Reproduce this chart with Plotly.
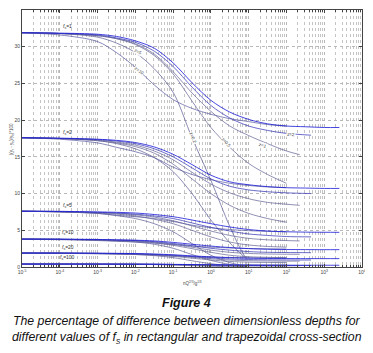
import plotly.graph_objects as go

# ---------------- data ----------------
# x positions are log10 of the abscissa
LX_A = [-5, -4, -3, -2.5, -2, -1.5, -1, -0.5, 0, 0.5, 1, 1.5, 2, 2.5, 3, 3.4]
LX_B = [-5, -4, -3, -2.5, -2, -1.5, -1, -0.5, 0, 0.5, 1, 1.5, 2, 2.65]
LX_C = [-5, -4, -3, -2.5, -2, -1.5, -1, -0.5, 0, 0.5, 1, 1.5, 2, 2.35]
LX_D = [-5, -4, -3, -2.5, -2, -1.5, -1, -0.5, 0, 0.5, 1, 1.5, 2]
LX_Z10 = [-5, -4, -3, -2.5, -2, -1.5, -1, -0.5, 0, 0.5, 1, 1.5, 2]
LX_STEEP = [-5, -4, -3, -2.5, -2, -1.5, -1, -0.5, 0, 0.5, 0.75, 0.9]

FS1 = {
    "A": [31.9, 31.85, 31.7, 31.4, 30.8, 29.8, 27.8, 25.1, 22.7, 21.1, 20.1, 19.5, 19.2, 19.1, 19.0, 19.0],
    "B": [31.9, 31.8, 31.6, 31.2, 30.6, 29.4, 27.3, 24.5, 22.0, 20.3, 19.2, 18.6, 18.2, 17.95],
    "C": [31.9, 31.8, 31.5, 31.1, 30.4, 29.0, 26.6, 23.7, 21.2, 19.2, 17.9, 16.8, 15.8, 15.3],
    "D": [31.9, 31.8, 31.5, 31.1, 30.3, 28.8, 26.3, 22.6, 19.0, 16.3, 14.1, 12.6, 11.4],
    "Z10": [31.9, 31.6, 30.7, 29.2, 27.2, 24.8, 22.8, 21.6, 20.8, 20.2, 19.8, 19.4, 19.2],
    "STEEP": [31.9, 31.8, 31.3, 30.5, 29.2, 27.0, 23.8, 17.6, 11.8, 5.5, 2.8, 1.4],
}
FS2 = {
    "A": [17.6, 17.55, 17.4, 17.25, 16.95, 16.35, 15.35, 13.95, 12.5, 11.6, 11.2, 10.95, 10.8, 10.75, 10.7, 10.7],
    "B": [17.6, 17.5, 17.35, 17.15, 16.8, 16.1, 15.0, 13.5, 12.0, 11.0, 10.5, 10.25, 10.1, 10.0],
    "C": [17.6, 17.5, 17.3, 17.0, 16.6, 15.8, 14.6, 12.9, 11.3, 10.1, 9.3, 8.8, 8.55, 8.4],
    "D": [17.6, 17.5, 17.2, 16.9, 16.4, 15.5, 14.0, 12.0, 10.0, 8.4, 7.3, 6.6, 6.1],
    "Z10": [17.6, 17.4, 16.9, 16.3, 15.7, 14.9, 13.6, 12.6, 11.9, 11.4, 11.1, 10.9, 10.8],
    "STEEP": [17.6, 17.5, 17.2, 16.8, 16.1, 14.9, 13.0, 10.0, 6.4, 3.3, 2.0, 1.3],
}
FS5 = {
    "A": [7.6, 7.58, 7.5, 7.45, 7.35, 7.15, 6.85, 6.4, 5.9, 5.45, 5.1, 4.9, 4.8, 4.75, 4.73, 4.72],
    "B": [7.6, 7.55, 7.45, 7.35, 7.2, 6.95, 6.6, 6.0, 5.4, 4.9, 4.5, 4.3, 4.15, 4.1],
    "C": [7.6, 7.55, 7.4, 7.3, 7.1, 6.8, 6.3, 5.6, 4.9, 4.3, 3.9, 3.7, 3.6, 3.55],
    "D": [7.6, 7.5, 7.35, 7.2, 6.95, 6.5, 5.9, 5.0, 4.1, 3.4, 3.0, 2.8, 2.7],
    "Z10": [7.6, 7.5, 7.3, 7.05, 6.85, 6.6, 6.2, 5.7, 5.35, 5.1, 4.95, 4.85, 4.8],
    "STEEP": [7.6, 7.5, 7.3, 7.0, 6.6, 5.9, 4.8, 3.2, 1.6, 0.6, 0.3, 0.15],
}
FS10 = {
    "A": [3.8, 3.79, 3.75, 3.7, 3.65, 3.55, 3.35, 3.1, 2.85, 2.65, 2.5, 2.42, 2.38, 2.37, 2.36, 2.36],
    "B": [3.8, 3.78, 3.72, 3.67, 3.6, 3.45, 3.2, 2.9, 2.55, 2.3, 2.1, 2.0, 1.97, 1.95],
    "C": [3.8, 3.77, 3.7, 3.64, 3.55, 3.38, 3.1, 2.7, 2.3, 2.0, 1.85, 1.77, 1.74, 1.73],
    "D": [3.8, 3.76, 3.68, 3.6, 3.5, 3.3, 2.95, 2.5, 2.0, 1.6, 1.4, 1.32, 1.27],
    "Z10": [3.8, 3.72, 3.6, 3.5, 3.4, 3.25, 3.05, 2.85, 2.7, 2.6, 2.52, 2.47, 2.45],
    "STEEP": [3.8, 3.76, 3.65, 3.55, 3.4, 3.1, 2.55, 1.7, 0.9, 0.35, 0.18, 0.1],
}
FS20 = {
    "A": [1.9, 1.9, 1.88, 1.86, 1.83, 1.77, 1.67, 1.52, 1.38, 1.27, 1.2, 1.16, 1.15, 1.14, 1.14, 1.14],
    "B": [1.9, 1.89, 1.86, 1.84, 1.8, 1.72, 1.6, 1.42, 1.25, 1.1, 1.02, 0.98, 0.96, 0.95],
    "C": [1.9, 1.89, 1.85, 1.82, 1.77, 1.68, 1.53, 1.33, 1.12, 0.95, 0.86, 0.82, 0.8, 0.8],
    "D": [1.9, 1.88, 1.84, 1.8, 1.74, 1.63, 1.45, 1.2, 0.95, 0.76, 0.66, 0.62, 0.6],
    "Z10": [1.9, 1.86, 1.8, 1.75, 1.7, 1.62, 1.52, 1.42, 1.35, 1.3, 1.26, 1.24, 1.23],
    "STEEP": [1.9, 1.88, 1.82, 1.77, 1.7, 1.55, 1.27, 0.85, 0.45, 0.18, 0.09, 0.05],
}
FS100 = {
    "A": [0.4, 0.4, 0.4, 0.39, 0.39, 0.38, 0.36, 0.33, 0.3, 0.28, 0.26, 0.25, 0.25, 0.24, 0.24, 0.24],
    "B": [0.4, 0.4, 0.39, 0.39, 0.38, 0.37, 0.34, 0.31, 0.27, 0.24, 0.22, 0.21, 0.2, 0.2],
    "C": [0.4, 0.4, 0.39, 0.39, 0.38, 0.36, 0.33, 0.29, 0.25, 0.21, 0.19, 0.18, 0.17, 0.17],
    "D": [0.4, 0.4, 0.39, 0.38, 0.37, 0.35, 0.31, 0.26, 0.21, 0.17, 0.14, 0.13, 0.13],
    "Z10": [0.4, 0.4, 0.39, 0.38, 0.37, 0.36, 0.34, 0.32, 0.3, 0.29, 0.28, 0.27, 0.27],
    "STEEP": [0.4, 0.4, 0.39, 0.38, 0.36, 0.33, 0.27, 0.18, 0.1, 0.04, 0.02, 0.01],
}

GROUPS = [FS1, FS2, FS5, FS10, FS20, FS100]
FS_LABELS = ["1", "2", "5", "10", "20", "100"]
FS_LABEL_POS = [(-3.79, 32.8), (-3.79, 18.3), (-3.79, 8.4), (-3.79, 4.7), (-3.79, 2.6), (-3.79, 1.25)]

Z_LABELS = ["z=5", "z=10", "z=0.2", "z=0.5", "z=1", "z=2"]
Z_LABEL_POS = [(-1.94, 29.3), (-1.91, 26.7), (-0.48, 17.6), (0.4, 16.9), (1.38, 16.6), (2.12, 18.1)]
Z_LABEL_ANGLE = [28, 35, 68, 48, 18, 4]

X_DECADES = [-5, -4, -3, -2, -1, 0, 1, 2, 3, 4]
Y_TICKS = [0, 5, 10, 15, 20, 25, 30, 35]

LXS = {"A": LX_A, "B": LX_B, "C": LX_C, "D": LX_D, "Z10": LX_Z10, "STEEP": LX_STEEP}
COLORS = {"A": "rgba(25,25,215,0.95)", "B": "rgba(60,60,185,0.9)", "C": "rgba(100,100,150,0.85)",
          "D": "rgba(100,100,150,0.85)", "Z10": "rgba(90,90,160,0.85)", "STEEP": "rgba(95,95,150,0.85)"}

# ---------------- figure ----------------
fig = go.Figure()
for grp in GROUPS:
    for key in ["D", "C", "STEEP", "Z10", "B", "A"]:
        fig.add_trace(go.Scatter(
            x=[10 ** v for v in LXS[key]], y=grp[key], mode="lines",
            line=dict(color=COLORS[key], width=0.85, shape="spline", smoothing=0.9),
            showlegend=False, hoverinfo="skip"))

FONT = "Liberation Sans, Arial, sans-serif"
for lab, (px, py) in zip(FS_LABELS, FS_LABEL_POS):
    fig.add_annotation(x=px, y=py, text="<i>f</i><sub>s</sub>=" + lab, showarrow=False,
                       font=dict(size=5, color="#333", family=FONT))
for lab, (px, py), ang in zip(Z_LABELS, Z_LABEL_POS, Z_LABEL_ANGLE):
    fig.add_annotation(x=px, y=py, text=lab, showarrow=False, textangle=ang,
                       bgcolor="white", borderpad=0,
                       font=dict(size=4.5, color="#333", family=FONT))

# axis titles (placed as text so the plot area keeps its size)
fig.add_annotation(xref="paper", yref="paper", x=0.5, y=-0.062, xanchor="center", yanchor="middle",
                   text="nQ<sup>2/3</sup>/g<sup>1/3</sup>", showarrow=False,
                   font=dict(size=4.5, color="#444", family=FONT))
fig.add_annotation(xref="paper", yref="paper", x=-0.031, y=0.5, textangle=-90,
                   xanchor="center", yanchor="middle",
                   text="|(y<sub>r</sub> - y<sub>tr</sub>)/y<sub>tr</sub>|*100", showarrow=False,
                   font=dict(size=4.5, color="#444", family=FONT))

# caption
CAP = dict(xref="paper", yref="paper", x=0.484, xanchor="center", yanchor="middle", showarrow=False)
fig.add_annotation(y=-0.140, text="<b><i>Figure 4</i></b>",
                   font=dict(size=12.5, color="#111", family=FONT), **CAP)
fig.add_annotation(y=-0.210,
                   text="<i>The percentage of difference between dimensionless depths for</i>",
                   font=dict(size=12.3, color="#111", family=FONT), **CAP)
fig.add_annotation(y=-0.276,
                   text="<i>different values of f<sub>s</sub> in rectangular and trapezoidal cross-section</i>",
                   font=dict(size=12.3, color="#111", family=FONT), **CAP)

fig.update_xaxes(
    type="log", range=[-5, 4], automargin=False,
    tickvals=[10 ** d for d in X_DECADES],
    ticktext=["10<sup>%d</sup>" % d for d in X_DECADES],
    tickfont=dict(size=5, color="#444", family=FONT),
    ticks="inside", ticklen=3, tickcolor="#444",
    showgrid=True, gridcolor="#b8b8b8", griddash="dot", gridwidth=0.6,
    minor=dict(dtick="D1", showgrid=True, gridcolor="#c4c4c4", griddash="dot", gridwidth=0.6,
               ticks="inside", ticklen=2, tickcolor="#444"),
    showline=True, linecolor="#444", linewidth=0.8, mirror="ticks",
    zeroline=False,
)
fig.update_yaxes(
    range=[0, 35], tickvals=Y_TICKS, automargin=False,
    tickfont=dict(size=5, color="#444", family=FONT),
    ticks="inside", ticklen=3, tickcolor="#444",
    showgrid=True, gridcolor="#b8b8b8", griddash="dot", gridwidth=0.6,
    showline=True, linecolor="#444", linewidth=0.8, mirror="ticks",
    zeroline=False,
)
# the page body adds an 8px offset, so the figure is 8px smaller on each axis
fig.update_layout(
    width=365, height=345,
    margin=dict(l=14, r=11, t=2, b=86),
    paper_bgcolor="white", plot_bgcolor="white",
)
fig.write_html("out.html")
